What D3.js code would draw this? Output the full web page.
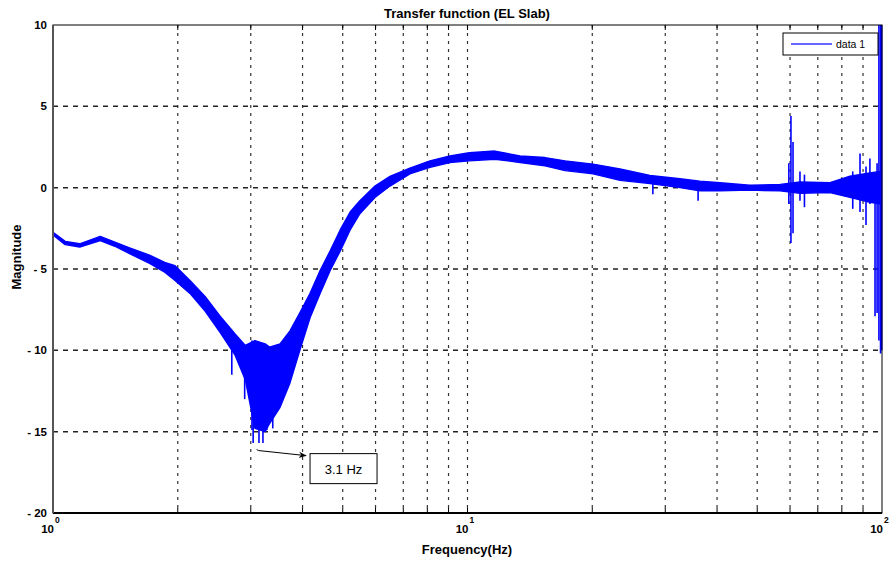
<!DOCTYPE html>
<html>
<head>
<meta charset="utf-8">
<script src="https://cdn.jsdelivr.net/npm/d3@7"></script>
<style>
  body { margin: 0; background: #fff; }
  text { font-family: "Liberation Sans", Arial, sans-serif; }
</style>
</head>
<body>
<svg id="chart" width="889" height="562"></svg>
<script>
// frequency (Hz) and the upper / lower edge of the noisy magnitude trace (dB)
var freq  = [1.00, 1.07, 1.16, 1.30, 1.41, 1.53, 1.71, 1.86, 1.97, 2.14, 2.33, 2.53, 2.75, 2.91,
             3.07, 3.25, 3.33, 3.53, 3.73, 3.94, 4.17, 4.41, 4.66, 4.93, 5.21, 5.50, 5.98, 6.50,
             7.26, 8.12, 9.07, 10.1, 11.65, 13.39, 15.38, 17.19, 20.08, 23.33, 27.56, 32.56, 36.38,
             40.67, 48.0, 56.8, 63.4, 74.9, 83.7, 93.5, 98.9];
var upper = [-2.75, -3.30, -3.45, -3.00, -3.35, -3.70, -4.15, -4.60, -4.80, -5.70, -6.70, -7.90, -9.00, -9.70,
             -9.40, -9.60, -9.80, -9.60, -8.80, -7.70, -6.50, -5.10, -3.90, -2.60, -1.50, -0.80, 0.10, 0.70,
             1.20, 1.65, 1.95, 2.15, 2.25, 1.95, 1.85, 1.65, 1.45, 1.15, 0.75, 0.55, 0.40,
             0.30, 0.15, 0.20, 0.35, 0.30, 0.70, 0.90, 1.00];
var lower = [-2.90, -3.50, -3.65, -3.25, -3.60, -4.05, -4.65, -5.20, -5.70, -6.50, -7.60, -8.90, -10.3, -11.8,
             -14.8, -15.0, -14.5, -13.5, -12.0, -10.0, -8.00, -6.50, -5.10, -3.90, -2.60, -1.60, -0.60, 0.10,
             0.85, 1.25, 1.55, 1.65, 1.75, 1.55, 1.35, 1.05, 0.85, 0.45, 0.25, 0.00, -0.20,
             -0.20, -0.15, -0.20, -0.35, -0.30, -0.60, -0.90, -1.00];

// isolated spikes (Hz, top dB, bottom dB)
var spikeFreq   = [2.70, 2.90, 3.02, 3.04, 3.14, 3.21, 3.28, 3.39, 28.0, 36.0, 59.6, 60.3, 61.0, 63.4, 65.0,
                   85.0, 88.5, 91.5, 93.5, 96.2, 97.3, 98.3, 99.2, 99.8];
var spikeTop    = [-9.0, -9.9, -9.4, -10.0, -10.5, -10.8, -11.0, -10.8, 0.5, 0.3, 1.5, 4.4, 2.8, 1.0, 0.8,
                   1.0, 2.1, 1.3, 1.8, 0.5, 1.5, 10.0, 10.0, 10.0];
var spikeBottom = [-11.5, -13.0, -14.9, -15.7, -15.7, -15.7, -14.9, -14.8, -0.4, -0.8, -1.0, -3.4, -2.8, -0.8, -1.2,
                   -1.3, -1.5, -2.3, -1.0, -7.9, -7.7, -9.4, -10.2, -10.0];

var yTicks = [10, 5, 0, -5, -10, -15, -20];
var xDecades = [1, 10, 100];
var xDecadeLabels = ["0", "1", "2"];

// annotation: data point and where the label box sits (data coordinates)
var markFreq = 3.1, markMag = -16.1, markLabel = "3.1 Hz";
var boxFreq = 4.17, boxMag = -16.35;

var svg = d3.select("#chart");
var x = d3.scaleLog().domain([1, 100]).range([53, 882]);
var y = d3.scaleLinear().domain([-20, 10]).range([513, 25]);

// minor grid positions 2..9 per decade, plus 10
var gridX = [];
[1, 10].forEach(function (d) { for (var k = 2; k <= 9; k++) gridX.push(d * k); });
gridX.push(10);

var grid = svg.append("g");
grid.selectAll("line.gx").data(gridX).enter().append("line")
  .attr("x1", function (d) { return x(d); }).attr("x2", function (d) { return x(d); })
  .attr("y1", y(10)).attr("y2", y(-20))
  .attr("stroke", "#333").attr("stroke-width", 1.2).attr("stroke-dasharray", "3,5");
grid.selectAll("line.gy").data(yTicks.slice(1, -1)).enter().append("line")
  .attr("x1", x(1)).attr("x2", x(100))
  .attr("y1", function (d) { return y(d); }).attr("y2", function (d) { return y(d); })
  .attr("stroke", "#222").attr("stroke-width", 1.5).attr("stroke-dasharray", "5,5");

// trace
var pts = freq.map(function (f, i) { return { f: f, hi: upper[i], lo: lower[i] }; });
var area = d3.area()
  .x(function (d) { return x(d.f); })
  .y0(function (d) { return y(d.lo); })
  .y1(function (d) { return y(d.hi); });
svg.append("path").datum(pts).attr("d", area)
  .attr("fill", "#0000ff").attr("stroke", "#0000ff").attr("stroke-width", 1.4)
  .attr("stroke-linejoin", "round");

var spikes = spikeFreq.map(function (f, i) { return { f: f, t: spikeTop[i], b: spikeBottom[i] }; });
svg.selectAll("line.spike").data(spikes).enter().append("line")
  .attr("x1", function (d) { return x(d.f); }).attr("x2", function (d) { return x(d.f); })
  .attr("y1", function (d) { return y(d.t); }).attr("y2", function (d) { return y(d.b); })
  .attr("stroke", "#0000ff").attr("stroke-width", 1.6);

// frame
svg.append("rect").attr("x", x(1)).attr("y", y(10))
  .attr("width", x(100) - x(1)).attr("height", y(-20) - y(10))
  .attr("fill", "none").attr("stroke", "#000").attr("stroke-width", 1);
svg.append("line").attr("x1", x(1)).attr("x2", x(100)).attr("y1", y(-20)).attr("y2", y(-20))
  .attr("stroke", "#000").attr("stroke-width", 2);
svg.append("line").attr("x1", x(1)).attr("x2", x(1)).attr("y1", y(10)).attr("y2", y(-20))
  .attr("stroke", "#555").attr("stroke-width", 2);

// x minor ticks, bottom and top
var ticks = svg.append("g").attr("stroke", "#000").attr("stroke-width", 1);
ticks.selectAll("line.tb").data(gridX).enter().append("line")
  .attr("x1", function (d) { return x(d); }).attr("x2", function (d) { return x(d); })
  .attr("y1", y(-20)).attr("y2", y(-20) - 5);
ticks.selectAll("line.tt").data(gridX).enter().append("line")
  .attr("x1", function (d) { return x(d); }).attr("x2", function (d) { return x(d); })
  .attr("y1", y(10)).attr("y2", y(10) + 5);

// y tick labels
svg.selectAll("text.yl").data(yTicks).enter().append("text")
  .attr("x", 47).attr("y", function (d) { return y(d) + 4; })
  .attr("text-anchor", "end").attr("font-size", 11.5).attr("font-weight", "bold")
  .text(function (d) { return d < 0 ? "- " + Math.abs(d) : d; });

// x decade labels 10^n
var xl = svg.selectAll("g.xl").data(xDecades).enter().append("g")
  .attr("transform", function (d) { return "translate(" + x(d) + ",0)"; });
xl.append("text").attr("x", 1).attr("y", 533).attr("text-anchor", "end")
  .attr("font-size", 11.5).attr("font-weight", "bold").text("10");
xl.append("text").attr("x", 2).attr("y", 523).attr("font-size", 8.5).attr("font-weight", "bold")
  .text(function (d, i) { return xDecadeLabels[i]; });

// titles
svg.append("text").attr("x", 467).attr("y", 18).attr("text-anchor", "middle")
  .attr("font-size", 13).attr("font-weight", "bold").text("Transfer function (EL Slab)");
svg.append("text").attr("x", 467).attr("y", 554).attr("text-anchor", "middle")
  .attr("font-size", 13).attr("font-weight", "bold").text("Frequency(Hz)");
svg.append("text").attr("transform", "translate(21,257) rotate(-90)").attr("text-anchor", "middle")
  .attr("font-size", 13).attr("font-weight", "bold").text("Magnitude");

// legend
var lg = svg.append("g").attr("transform", "translate(783,33)");
lg.append("rect").attr("width", 95).attr("height", 22).attr("fill", "#fff").attr("stroke", "#000");
lg.append("line").attr("x1", 8).attr("x2", 49).attr("y1", 11).attr("y2", 11)
  .attr("stroke", "#3333ff").attr("stroke-width", 1.3);
lg.append("text").attr("x", 53).attr("y", 15).attr("font-size", 10.5).text("data 1");

// annotation arrow + box
svg.append("defs").append("marker").attr("id", "arr")
  .attr("viewBox", "0 0 10 10").attr("refX", 9).attr("refY", 5)
  .attr("markerWidth", 8).attr("markerHeight", 8).attr("orient", "auto")
  .append("path").attr("d", "M0,1 L10,5 L0,9 L3,5 Z").attr("fill", "#000");
var boxW = 67, boxH = 30;
var bx = x(boxFreq), by = y(boxMag);
svg.append("polyline")
  .attr("points", [[x(markFreq), y(markMag)], [x(markFreq) + 2, y(markMag) + 1], [bx - 4, by + 2]].join(" "))
  .attr("fill", "none").attr("stroke", "#000").attr("stroke-width", 1)
  .attr("marker-end", "url(#arr)");
svg.append("rect").attr("x", bx).attr("y", by).attr("width", boxW).attr("height", boxH)
  .attr("fill", "#fff").attr("stroke", "#000");
svg.append("text").attr("x", bx + boxW / 2).attr("y", by + 20).attr("text-anchor", "middle")
  .attr("font-size", 13).text(markLabel);
</script>
</body>
</html>
